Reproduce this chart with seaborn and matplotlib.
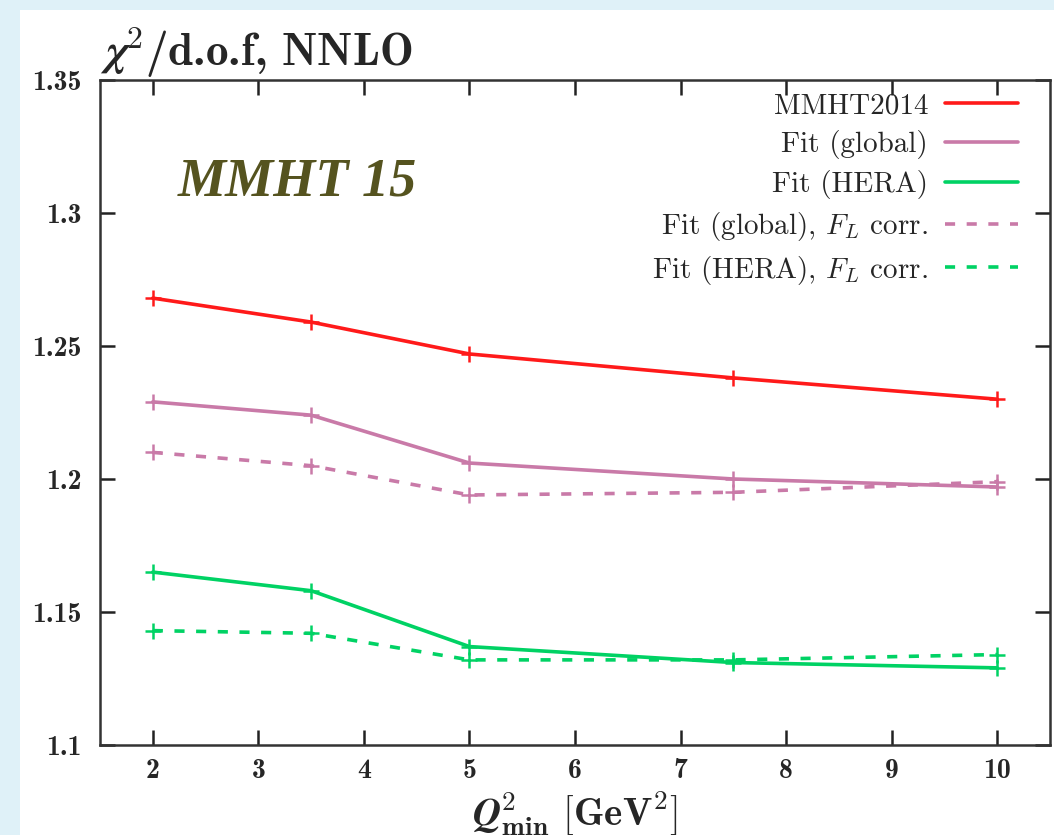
import numpy as np
import pandas as pd
import matplotlib
matplotlib.use("Agg")
import matplotlib.pyplot as plt
from matplotlib.patches import Rectangle
import seaborn as sns

# ---- data ----
q2min = [2, 3.5, 5, 7.5, 10]
mmht2014 = [1.268, 1.259, 1.247, 1.238, 1.230]
fit_global = [1.229, 1.224, 1.206, 1.200, 1.197]
fit_hera = [1.165, 1.158, 1.137, 1.131, 1.129]
fit_global_fl = [1.210, 1.205, 1.194, 1.195, 1.199]
fit_hera_fl = [1.143, 1.142, 1.132, 1.132, 1.134]
labels = ["MMHT2014", "Fit (global)", "Fit (HERA)",
          r"Fit (global), $F_L$ corr.", r"Fit (HERA), $F_L$ corr."]
colors = ["#ff1a1a", "#c97aa8", "#00d264", "#c97aa8", "#00d264"]
dashed = [False, False, False, True, True]
yticks = [1.1, 1.15, 1.2, 1.25, 1.3, 1.35]
ytick_labels = ["1.1", "1.15", "1.2", "1.25", "1.3", "1.35"]
xticks = [2, 3, 4, 5, 6, 7, 8, 9, 10]

series = [mmht2014, fit_global, fit_hera, fit_global_fl, fit_hera_fl]

sns.set_theme(style="white")
plt.rcParams["font.family"] = ["cmr10", "DejaVu Serif"]
plt.rcParams["mathtext.fontset"] = "cm"
plt.rcParams["axes.formatter.use_mathtext"] = True

fig = plt.figure(figsize=(10.54, 8.35), dpi=100)
fig.patch.set_facecolor("#dff1f8")
fig.add_artist(Rectangle((20 / 1054, 0), 1 - 20 / 1054, 1 - 10 / 835,
                         transform=fig.transFigure, facecolor="white",
                         edgecolor="none", zorder=0))
ax = fig.add_axes([100 / 1054, 1 - 745 / 835, 950 / 1054, 665 / 835])
ax.set_facecolor("white")

for vals, lab, col, dsh in zip(series, labels, colors, dashed):
    df = pd.DataFrame({"x": q2min, "y": vals})
    sns.lineplot(data=df, x="x", y="y", ax=ax, color=col, label=lab,
                 linewidth=2.6, marker="+", markersize=12,
                 markeredgewidth=1.8, markeredgecolor=col,
                 dashes=False, linestyle=(0, (2.8, 3.2)) if dsh else "-")

ax.set_xlim(1.5, 10.5)
ax.set_ylim(1.1, 1.35)
ax.set_xticks(xticks)
ax.set_xticklabels([str(v) for v in xticks], fontfamily="cmb10", fontsize=20)
ax.set_yticks(yticks)
ax.set_yticklabels(ytick_labels, fontfamily="cmb10", fontsize=20)
ax.tick_params(axis="both", which="major", direction="in", length=11,
               width=1.8, color="#222222", top=True, right=True,
               bottom=True, left=True, labeltop=False, labelright=False)
ax.tick_params(axis="x", pad=9)
ax.tick_params(axis="y", pad=13)
for s in ax.spines.values():
    s.set_visible(True)
    s.set_linewidth(1.8)
    s.set_color("#333333")

ax.set_xlabel(r"$\boldsymbol{Q}^{\mathbf{2}}_{\mathbf{min}}$ $\mathbf{[GeV^2]}$",
              fontsize=28, labelpad=4)
ax.set_ylabel("")
fig.text(100 / 1054, 1 - 66 / 835, r"$\boldsymbol{\chi}^{\mathbf{2}}$/d.o.f, NNLO",
         fontfamily="cmb10", fontsize=32.5, ha="left", va="baseline")

ax.text(178 / 1054, 1 - 195 / 835, "MMHT 15", transform=fig.transFigure,
        fontfamily="Liberation Serif", fontstyle="italic", fontweight="bold",
        fontsize=39, color="#55531f", ha="left", va="baseline")

leg = ax.legend(loc="upper right", bbox_to_anchor=(1018 / 1054, 1 - 93 / 835),
                bbox_transform=fig.transFigure, frameon=False,
                markerfirst=False, fontsize=21, handlelength=2.5,
                handletextpad=0.58, labelspacing=0.37, borderaxespad=0,
                borderpad=0)
for h in leg.legend_handles:
    h.set_marker("")

fig.savefig("out.png", dpi=100, facecolor=fig.get_facecolor())
